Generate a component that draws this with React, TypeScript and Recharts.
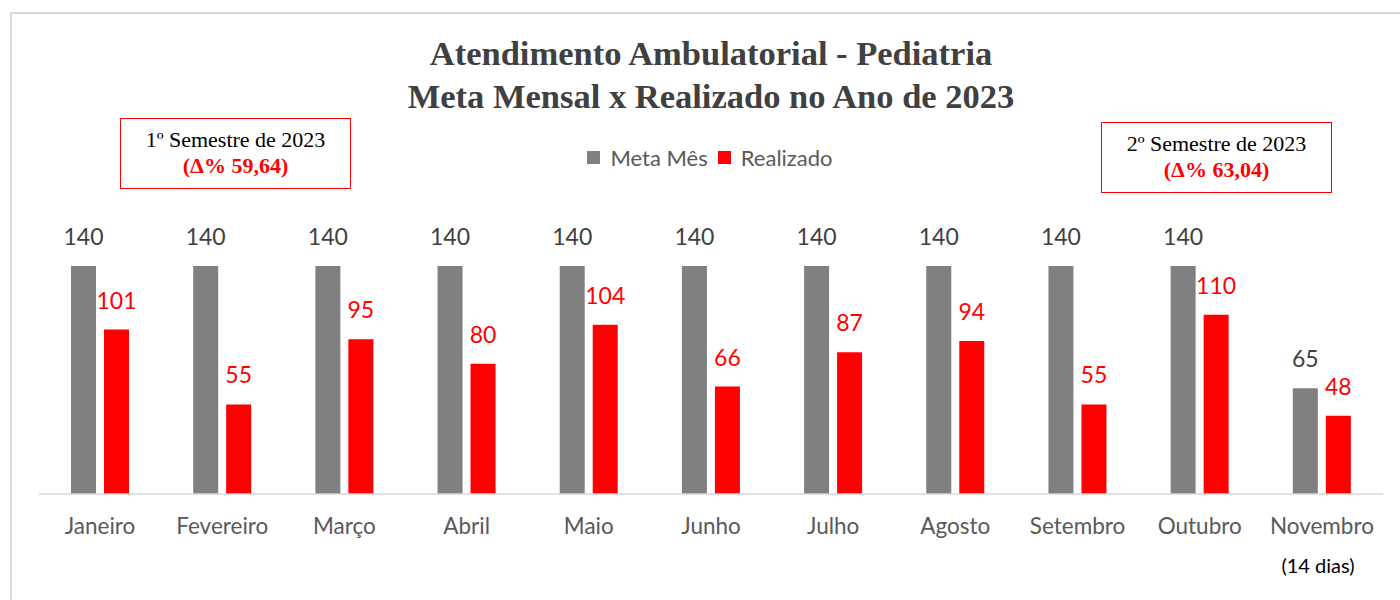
import React from "react";
import { BarChart, Bar, XAxis, YAxis, LabelList } from "recharts";

// Monthly data
const months = [
  "Janeiro",
  "Fevereiro",
  "Março",
  "Abril",
  "Maio",
  "Junho",
  "Julho",
  "Agosto",
  "Setembro",
  "Outubro",
  "Novembro",
];
const metaMes = [140, 140, 140, 140, 140, 140, 140, 140, 140, 140, 65];
const realizado = [101, 55, 95, 80, 104, 66, 87, 94, 55, 110, 48];

const data = months.map((m, i) => ({ month: m, meta: metaMes[i], real: realizado[i] }));

const sans = "Lato, 'Open Sans', sans-serif";
const serif = "'Liberation Serif', 'DejaVu Serif', serif";

const SemesterBox = ({ left, top, title, delta }: any) => (
  <div
    style={{
      position: "absolute",
      left,
      top,
      width: 231,
      height: 71,
      border: "1.5px solid #ff0000",
      boxSizing: "border-box",
      textAlign: "center",
      fontFamily: serif,
      fontSize: 22,
      lineHeight: "26px",
      paddingTop: 8,
    }}
  >
    <div style={{ color: "#000" }}>{title}</div>
    <div style={{ color: "#ff0000", fontWeight: "bold" }}>{delta}</div>
  </div>
);

// simple legend drawn by hand so the plot keeps its size
const LegendItem = ({ color, label }: any) => (
  <span style={{ display: "inline-flex", alignItems: "center", marginRight: 10 }}>
    <span style={{ width: 13, height: 13, background: color, marginRight: 10, display: "inline-block" }} />
    <span style={{ color: "#595959" }}>{label}</span>
  </span>
);

export default function App() {
  return (
    <div style={{ position: "absolute", left: 0, top: 0, width: 1400, height: 600, background: "#fff", overflow: "hidden" }}>
      {/* chart frame */}
      <div
        style={{
          position: "absolute",
          left: 10,
          top: 12,
          width: 1400,
          height: 600,
          border: "2px solid #d9d9d9",
          boxSizing: "border-box",
        }}
      />

      <div style={{ position: "absolute", left: 0, top: 0 }}>
        <BarChart
          width={1400}
          height={600}
          data={data}
          margin={{ top: 266, right: 17, bottom: 76, left: 39 }}
          barGap={8}
          barSize={25}
        >
          <XAxis
            dataKey="month"
            height={30}
            tickLine={false}
            axisLine={{ stroke: "#d9d9d9", strokeWidth: 1.5 }}
            tick={{ fill: "#595959", fontSize: 22.5, fontFamily: sans }}
            tickMargin={18}
            interval={0}
          />
          <YAxis hide domain={[0, 140]} />
          <Bar dataKey="meta" name="Meta Mês" fill="#808080" isAnimationActive={false}>
            <LabelList
              dataKey="meta"
              position="top"
              offset={21}
              fill="#404040"
              fontSize={23}
              fontFamily={sans}
            />
          </Bar>
          <Bar dataKey="real" name="Realizado" fill="#ff0000" isAnimationActive={false}>
            <LabelList
              dataKey="real"
              position="top"
              offset={21}
              fill="#ff0000"
              fontSize={23}
              fontFamily={sans}
            />
          </Bar>
        </BarChart>
      </div>

      {/* legend */}
      <div
        style={{
          position: "absolute",
          left: 4,
          top: 142,
          width: 1422,
          textAlign: "center",
          fontFamily: sans,
          fontSize: 22,
          lineHeight: "28px",
        }}
      >
        <LegendItem color="#808080" label="Meta Mês" />
        <LegendItem color="#ff0000" label="Realizado" />
      </div>

      {/* title */}
      <div
        style={{
          position: "absolute",
          left: 0,
          top: 32,
          width: 1422,
          textAlign: "center",
          fontFamily: serif,
          fontWeight: "bold",
          fontSize: 34.5,
          lineHeight: "43px",
          color: "#404040",
        }}
      >
        <div>Atendimento Ambulatorial - Pediatria</div>
        <div>Meta Mensal x Realizado no Ano de 2023</div>
      </div>

      <SemesterBox left={120} top={118} title="1º Semestre de 2023" delta="(Δ% 59,64)" />
      <SemesterBox left={1101} top={122} title="2º Semestre de 2023" delta="(Δ% 63,04)" />

      <div
        style={{
          position: "absolute",
          left: 1258,
          top: 553,
          width: 120,
          textAlign: "center",
          fontFamily: sans,
          fontSize: 20,
          color: "#000",
        }}
      >
        (14 dias)
      </div>
    </div>
  );
}
